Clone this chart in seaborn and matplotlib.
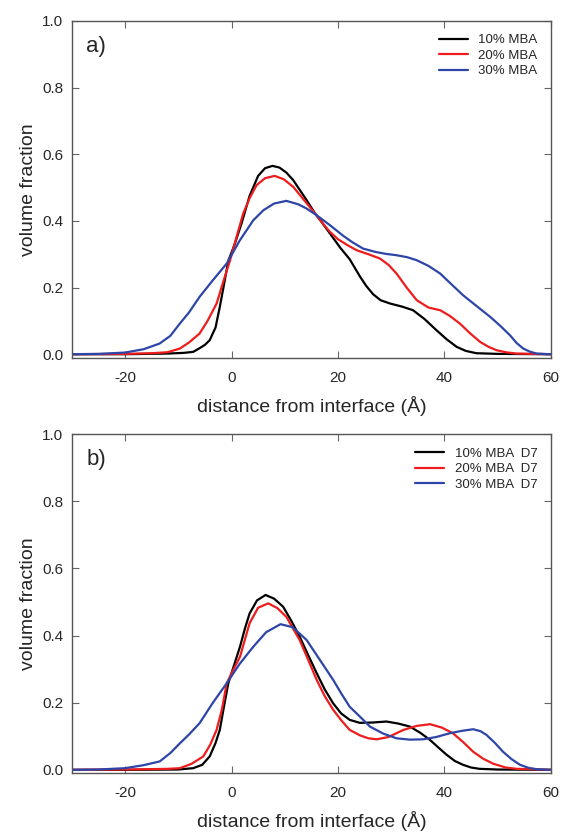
import numpy as np
import pandas as pd
import seaborn as sns
from matplotlib import pyplot as plt

# ---- panel a) profiles
xa_10 = [-30, -20, -12, -9, -7.2, -6, -5, -4.1, -3, -2.2, -1.4, -0.6, 0.6, 1.9, 3.4, 5, 6.3, 7.7, 9, 10.3, 11.6,
         14, 15.7, 17, 18.5, 20.4, 22.2, 24.1, 25.3, 26.6, 28, 29.8, 32, 34.1, 36.3, 38.5, 40.4, 42.3, 44, 46, 50, 60]
ya_10 = [0.0, 0.0, 0.002, 0.004, 0.007, 0.018, 0.028, 0.042, 0.08, 0.142, 0.21, 0.28, 0.33, 0.393, 0.475, 0.535,
         0.558, 0.565, 0.56, 0.545, 0.522, 0.465, 0.422, 0.395, 0.362, 0.32, 0.285, 0.234, 0.205, 0.18, 0.162,
         0.152, 0.143, 0.132, 0.105, 0.072, 0.045, 0.022, 0.01, 0.003, 0.001, 0.0]
xa_20 = [-30, -20, -15, -12, -9.7, -8, -6, -4.5, -2.8, -1.5, -0.3, 1, 2.2, 3.4, 4.7, 6.3, 8.1, 9.8, 11.6, 13.6, 15.7,
         17, 18.5, 20, 21.8, 23.5, 25.7, 27.9, 29.5, 31, 32.9, 34.8, 37, 39.2, 41, 42.9, 44.8, 46.7, 48.3, 49.8, 51.5,
         53.5, 60]
ya_20 = [0.0, 0.001, 0.003, 0.006, 0.017, 0.035, 0.062, 0.1, 0.152, 0.22, 0.28, 0.355, 0.422, 0.468, 0.507, 0.528,
         0.535, 0.525, 0.502, 0.463, 0.422, 0.395, 0.367, 0.345, 0.327, 0.312, 0.3, 0.287, 0.268, 0.242, 0.2, 0.162,
         0.14, 0.132, 0.115, 0.092, 0.063, 0.037, 0.022, 0.012, 0.006, 0.002, 0.0]
xa_30 = [-30, -25, -20, -16.5, -13.5, -11.5, -9.7, -8, -6, -3.5, -0.9, 1.5, 4.1, 6, 8, 10.3, 12.5, 14, 15.9, 18.5,
         21, 22.8, 24.7, 27, 29, 31, 33, 34.8, 37, 39.2, 41.3, 43.5, 46, 48.6, 50.5, 52.3, 53.6, 54.8, 56, 57.3, 60]
ya_30 = [0.0, 0.001, 0.005, 0.015, 0.032, 0.055, 0.092, 0.125, 0.172, 0.222, 0.272, 0.34, 0.402, 0.432, 0.452, 0.46,
         0.45, 0.438, 0.418, 0.387, 0.355, 0.335, 0.317, 0.307, 0.301, 0.297, 0.291, 0.282, 0.265, 0.242, 0.21,
         0.177, 0.145, 0.112, 0.085, 0.057, 0.033, 0.017, 0.008, 0.002, 0.0]

# ---- panel b) D7 profiles
xb_10 = [-30, -20, -10, -7.2, -5.5, -4.1, -3, -2.2, -1.4, -0.6, 0.5, 1.6, 2.5, 3.4, 4.8, 6.4, 8, 9.7, 11.2, 12.8,
         14.4, 16, 17.5, 19.1, 20.6, 22.2, 24.1, 26.5, 29.1, 31.3, 33.5, 35.5, 37.3, 38.9, 40.4, 42, 43.5, 45, 46.6,
         50, 60]
yb_10 = [0.0, 0.0, 0.001, 0.005, 0.015, 0.04, 0.08, 0.119, 0.19, 0.258, 0.313, 0.367, 0.42, 0.466, 0.505, 0.521,
         0.51, 0.486, 0.445, 0.397, 0.342, 0.288, 0.24, 0.198, 0.168, 0.149, 0.14, 0.141, 0.144, 0.138, 0.129, 0.11,
         0.089, 0.066, 0.045, 0.026, 0.015, 0.007, 0.003, 0.001, 0.0]
xb_20 = [-30, -20, -12, -9.7, -7.5, -5.3, -4, -2.8, -1.8, -0.9, 0.3, 1.6, 2.5, 3.4, 5, 6.9, 8.6, 10.3, 11.6, 12.8,
         14.4, 16, 17.5, 19.1, 20.6, 22.2, 24.1, 25.7, 27.3, 29.5, 32.3, 34.8, 37.3, 39.5, 41.6, 43.5, 45.4, 47.3,
         49.2, 51.5, 53.6, 60]
yb_20 = [0.0, 0.001, 0.003, 0.005, 0.018, 0.04, 0.075, 0.119, 0.18, 0.258, 0.297, 0.337, 0.387, 0.437, 0.483, 0.496,
         0.482, 0.456, 0.42, 0.387, 0.328, 0.268, 0.22, 0.179, 0.148, 0.119, 0.103, 0.094, 0.091, 0.098, 0.119,
         0.131, 0.136, 0.126, 0.109, 0.083, 0.054, 0.033, 0.018, 0.007, 0.003, 0.0]
xb_30 = [-30, -25, -20, -16.5, -13.5, -11.5, -9.7, -8, -6, -3.5, -0.9, 1.5, 4.1, 6.5, 9.2, 11.5, 14.1, 16.5, 19.1,
         20.6, 22.2, 24.1, 26, 28.5, 31, 33.5, 36, 38.5, 41, 43.2, 45.4, 46.8, 47.9, 49.5, 51, 52.6, 54.2, 55.8,
         57.3, 60]
yb_30 = [0.0, 0.001, 0.005, 0.014, 0.025, 0.05, 0.079, 0.105, 0.139, 0.2, 0.258, 0.315, 0.367, 0.41, 0.434, 0.425,
         0.387, 0.33, 0.268, 0.228, 0.188, 0.159, 0.129, 0.108, 0.094, 0.09, 0.091, 0.098, 0.109, 0.116, 0.121,
         0.115, 0.104, 0.08, 0.054, 0.032, 0.015, 0.006, 0.002, 0.0]

colors = ["black", "#ee1c1c", "#2e45a8"]

sns.set_style("ticks")
plt.rcParams['font.family'] = ['Liberation Sans', 'DejaVu Sans']
plt.rcParams['axes.unicode_minus'] = False

fig = plt.figure(figsize=(5.61, 8.35), dpi=100)
ax_a = fig.add_axes([0.128, 0.571, 0.854, 0.404])
ax_b = fig.add_axes([0.128, 0.074, 0.854, 0.406])

panels = [
    (ax_a, "a)", [(xa_10, ya_10, "10% MBA"), (xa_20, ya_20, "20% MBA"), (xa_30, ya_30, "30% MBA")], -0.012),
    (ax_b, "b)", [(xb_10, yb_10, "10% MBA  D7"), (xb_20, yb_20, "20% MBA  D7"), (xb_30, yb_30, "30% MBA  D7")], -0.01),
]

for ax, tag, series, ylow in panels:
    for (x, y, lab), c in zip(series, colors):
        df = pd.DataFrame({"x": x, "y": y})
        sns.lineplot(data=df, x="x", y="y", ax=ax, color=c, lw=1.6, label=lab)
    ax.set_xlim(-30, 60)
    ax.set_ylim(ylow, 1.0)
    ax.set_xticks([-20, 0, 20, 40, 60])
    ax.set_yticks([0.0, 0.2, 0.4, 0.6, 0.8, 1.0])
    ax.yaxis.set_major_formatter(plt.FormatStrFormatter('%.1f'))
    ax.tick_params(direction='in', top=True, right=True, labelsize=11, length=5, color='#666666')
    ax.tick_params(axis='x', pad=9)
    ax.tick_params(axis='y', pad=6)
    for s in ax.spines.values():
        s.set_color('#555555')
        s.set_linewidth(1.0)
    ax.set_xlabel("distance from interface (Å)", fontsize=14, labelpad=8)
    ax.set_ylabel("volume fraction", fontsize=14)
    ax.text(0.03, 0.955, tag, transform=ax.transAxes, fontsize=16, va='top', ha='left')
    ax.legend(loc='upper right', frameon=False, fontsize=9.5, handlelength=2.2, labelspacing=0.25,
              borderaxespad=0.6)

fig.savefig("out.png", dpi=100)
